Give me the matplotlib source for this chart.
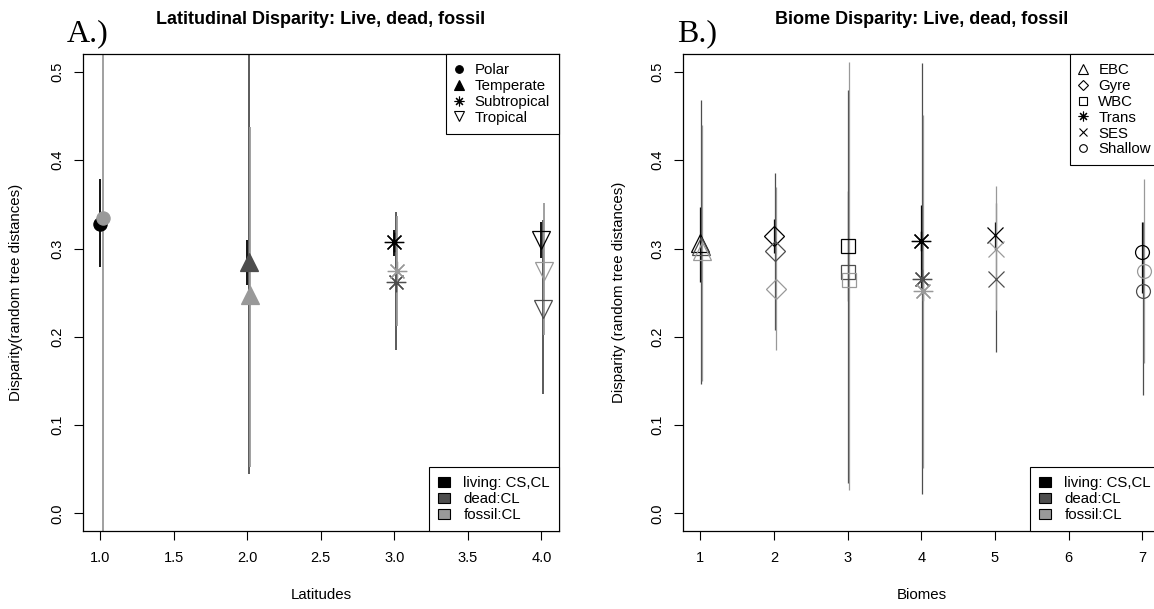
import numpy as np
import matplotlib
matplotlib.use("Agg")
import matplotlib.pyplot as plt
from matplotlib.lines import Line2D
from matplotlib.patches import Patch
from matplotlib.ticker import FormatStrFormatter

plt.rcParams['font.family'] = ['Liberation Sans', 'DejaVu Sans']

nan = np.nan
# ---------------- data: panel A (latitudes) ----------------
lat_x = [1, 2, 3, 4]
lat_names = ["Polar", "Temperate", "Subtropical", "Tropical"]
lat_living_mean = [0.328, nan, 0.307, 0.310]
lat_dead_mean = [nan, 0.285, 0.262, 0.231]
lat_fossil_mean = [0.334, 0.247, 0.275, 0.275]
lat_living_lo = [0.279, 0.259, 0.292, 0.289]
lat_living_hi = [0.379, 0.310, 0.321, 0.330]
lat_dead_lo = [nan, 0.045, 0.185, 0.135]
lat_dead_hi = [nan, 0.600, 0.341, 0.332]
lat_fossil_lo = [-0.050, 0.053, 0.212, 0.202]
lat_fossil_hi = [0.600, 0.438, 0.337, 0.352]

# ---------------- data: panel B (biomes) ----------------
bio_x = [1, 2, 3, 4, 5, 6, 7]
bio_names = ["EBC", "Gyre", "WBC", "Trans", "SES", "Shallow"]
bio_living_mean = [0.306, 0.314, 0.303, 0.309, 0.315, nan, 0.296]
bio_dead_mean = [0.303, 0.297, 0.273, 0.266, 0.266, nan, 0.252]
bio_fossil_mean = [0.297, 0.254, 0.264, 0.252, 0.300, nan, 0.275]
bio_living_lo = [0.262, 0.295, 0.241, 0.255, 0.298, nan, 0.250]
bio_living_hi = [0.347, 0.333, 0.365, 0.349, 0.330, nan, 0.330]
bio_dead_lo = [0.146, 0.208, 0.034, 0.022, 0.183, nan, 0.134]
bio_dead_hi = [0.468, 0.386, 0.480, 0.510, 0.351, nan, 0.330]
bio_fossil_lo = [0.150, 0.185, 0.026, 0.051, 0.230, nan, 0.170]
bio_fossil_hi = [0.440, 0.370, 0.511, 0.451, 0.371, nan, 0.379]

group_names = ["living: CS,CL", "dead:CL", "fossil:CL"]
group_colors = ["#000000", "#4D4D4D", "#999999"]
group_offsets = [0.0, 0.01, 0.02]

AST = (8, 2, 0)
lat_markers = ['o', '^', AST, 'v']
lat_filled = [True, True, False, False]
lat_ms = [9.5, 13, 14, 13]
bio_markers = ['^', 'D', 's', AST, 'x', None, 'o']
bio_ms = [13.5, 10, 10, 14, 11, 0, 10]

W, H = 1154, 609
fig = plt.figure(figsize=(W / 100, H / 100), dpi=100)
top_px, bot_px = 54.3, 531.0
ax1 = fig.add_axes([82.7 / W, 1 - bot_px / H, (559.0 - 82.7) / W, (bot_px - top_px) / H])
ax2 = fig.add_axes([682.7 / W, 1 - bot_px / H, (1160.0 - 682.7) / W, (bot_px - top_px) / H])


def draw(ax, xs, means, los, his, markers, ms_list, filled, lw):
    for g in range(3):
        col = group_colors[g]
        off = group_offsets[g]
        xx = [x + off for x in xs]
        ax.vlines(xx, los[g], his[g], colors=col, lw=lw, zorder=2)
    for g in range(3):
        col = group_colors[g]
        off = group_offsets[g]
        for i, x in enumerate(xs):
            m = markers[i]
            v = means[g][i]
            if m is None or np.isnan(v):
                continue
            ax.plot([x + off], [v], ls='none', marker=m, ms=ms_list[i],
                    mec=col, mfc=(col if filled[i] else 'none'), mew=0.9, zorder=3)


draw(ax1, lat_x,
     [lat_living_mean, lat_dead_mean, lat_fossil_mean],
     [lat_living_lo, lat_dead_lo, lat_fossil_lo],
     [lat_living_hi, lat_dead_hi, lat_fossil_hi],
     lat_markers, lat_ms, lat_filled, 1.3)
draw(ax2, bio_x,
     [bio_living_mean, bio_dead_mean, bio_fossil_mean],
     [bio_living_lo, bio_dead_lo, bio_fossil_lo],
     [bio_living_hi, bio_dead_hi, bio_fossil_hi],
     bio_markers, bio_ms, [False] * 7, 0.9)

for ax in (ax1, ax2):
    ax.set_ylim(-0.02, 0.52)
    ax.set_yticks([0.0, 0.1, 0.2, 0.3, 0.4, 0.5])
    ax.yaxis.set_major_formatter(FormatStrFormatter('%.1f'))
    ax.tick_params(axis='both', length=6.7, width=0.8, labelsize=10.5, color='black')
    ax.tick_params(axis='x', pad=8)
    ax.tick_params(axis='y', pad=6.5, labelrotation=90)
    for lab in ax.get_yticklabels():
        lab.set_va('center')
    for s in ax.spines.values():
        s.set_linewidth(0.9)

ax1.set_xlim(0.88, 4.12)
ax1.set_xticks([1.0, 1.5, 2.0, 2.5, 3.0, 3.5, 4.0])
ax1.xaxis.set_major_formatter(FormatStrFormatter('%.1f'))
ax2.set_xlim(0.76, 7.24)
ax2.set_xticks(bio_x)

ax1.set_xlabel("Latitudes", fontsize=10.8)
ax1.xaxis.set_label_coords(0.5, -0.12)
ax1.set_ylabel("Disparity(random tree distances)", fontsize=10.8)
ax1.yaxis.set_label_coords(-0.126, 0.5)
ax2.set_xlabel("Biomes", fontsize=10.8)
ax2.xaxis.set_label_coords(0.5, -0.12)
ax2.set_ylabel("Disparity (random tree distances)", fontsize=10.8)
ax2.yaxis.set_label_coords(-0.119, 0.5)

ax1.set_title("Latitudinal Disparity: Live, dead, fossil", fontsize=13, fontweight='bold', pad=21.5)
ax2.set_title("Biome Disparity: Live, dead, fossil", fontsize=13, fontweight='bold', pad=21.5)

fig.text(67 / W, 1 - 41 / H, "A.)", fontsize=23, family=['Liberation Serif', 'DejaVu Serif'],
         ha='left', va='baseline')
fig.text(677 / W, 1 - 41 / H, "B.)", fontsize=23, family=['Liberation Serif', 'DejaVu Serif'],
         ha='left', va='baseline')

leg_kw = dict(frameon=True, fancybox=False, edgecolor='black', framealpha=1,
              fontsize=10.8, borderaxespad=0, borderpad=0.6, labelspacing=0.12)

# symbol legends
lat_handles = []
for i, n in enumerate(lat_names):
    lat_handles.append(Line2D([], [], ls='none', marker=lat_markers[i], color='black',
                              mfc=('black' if lat_filled[i] else 'none'), mew=0.8,
                              ms=[5.5, 6.5, 7, 6.5][i]))
leg1 = ax1.legend(lat_handles, lat_names, loc='upper right', bbox_to_anchor=(1, 1),
                  handlelength=0.6, handletextpad=0.75, **leg_kw)
leg1.get_frame().set_linewidth(0.8)
ax1.add_artist(leg1)

bio_leg_markers = ['^', 'D', 's', AST, 'x', 'o']
bio_leg_ms = [7, 5, 5.5, 7, 5.5, 5.5]
bio_handles = [Line2D([], [], ls='none', marker=bio_leg_markers[i], color='black', mfc='none',
                      mew=0.8, ms=bio_leg_ms[i]) for i in range(6)]
leg2 = ax2.legend(bio_handles, bio_names, loc='upper right', bbox_to_anchor=(1, 1),
                  handlelength=0.6, handletextpad=0.7, **leg_kw)
leg2.get_frame().set_linewidth(0.8)
ax2.add_artist(leg2)

# group legends
for ax in (ax1, ax2):
    ph = [Patch(facecolor=c, edgecolor='black', lw=0.8) for c in group_colors]
    lg = ax.legend(ph, group_names, loc='lower right', bbox_to_anchor=(1, 0),
                   handlelength=0.8, handleheight=0.7, handletextpad=0.9, **leg_kw)
    lg.get_frame().set_linewidth(0.8)

fig.savefig("out.png", dpi=100)
